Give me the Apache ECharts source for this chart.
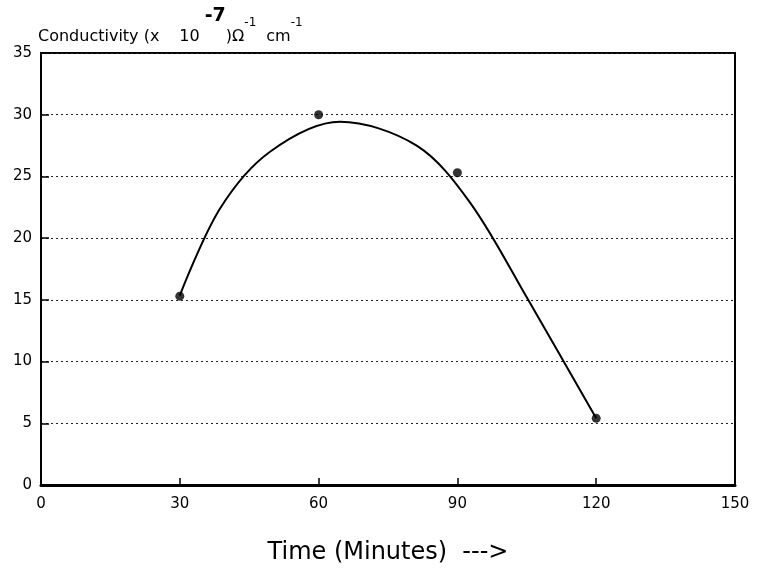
<!DOCTYPE html>
<html>
<head>
<meta charset="utf-8">
<script src="https://cdn.jsdelivr.net/npm/echarts@6/dist/echarts.min.js"></script>
<style>
  html, body { margin: 0; padding: 0; background: #fff; }
  #chart { width: 757px; height: 570px; }
</style>
</head>
<body>
<div id="chart"></div>
<script>
// Measured conductivity samples (time in minutes, conductivity in 1e-7 ohm^-1 cm^-1)
var sampleTimes = [30, 60, 90, 120];
var sampleConductivity = [15.3, 30.0, 25.3, 5.4];

// Hand-fitted trend curve through the samples (knots of a smooth spline)
var curveTimes = [30, 38.7, 49.5, 64.6, 81.2, 92.7, 105.3, 120];
var curveConductivity = [15.35, 22.4, 27, 29.43, 27.5, 22.9, 15, 5.4];

// Axis ticks
var xTicks = { min: 0, max: 150, interval: 30 };
var yTicks = { min: 0, max: 35, interval: 5 };

function pairs(xs, ys) {
  return xs.map(function (x, i) { return [x, ys[i]]; });
}

var font = 'DejaVu Sans';
var chart = echarts.init(document.getElementById('chart'));

chart.setOption({
  animation: false,
  backgroundColor: '#fff',
  grid: {
    left: 41, right: 22, top: 53, bottom: 84,
    show: true, borderColor: '#000', borderWidth: 2, backgroundColor: 'transparent'
  },
  xAxis: {
    type: 'value',
    min: xTicks.min, max: xTicks.max, interval: xTicks.interval,
    name: 'Time (Minutes)  --->',
    nameLocation: 'middle',
    nameGap: 56,
    nameTextStyle: { fontFamily: font, fontSize: 24, color: '#000' },
    axisLine: { show: true, lineStyle: { color: '#000', width: 3 } },
    axisTick: { show: true, inside: true, length: 7, lineStyle: { color: '#000', width: 1.5 } },
    axisLabel: { fontFamily: font, fontSize: 15, color: '#000', margin: 12 },
    splitLine: { show: false }
  },
  yAxis: {
    type: 'value',
    min: yTicks.min, max: yTicks.max, interval: yTicks.interval,
    name: '{t|Conductivity (x}{n|10}{s|-7}{t|)Ω}{u|-1}{c|cm}{u|-1}',
    nameLocation: 'end',
    nameGap: 8,
    nameTextStyle: {
      align: 'left',
      padding: [0, 0, 0, -3],
      rich: {
        t: { fontFamily: font, fontSize: 16, color: '#000', verticalAlign: 'bottom' },
        n: { fontFamily: font, fontSize: 16, color: '#000', verticalAlign: 'bottom', padding: [0, 0, 0, 20] },
        c: { fontFamily: font, fontSize: 16, color: '#000', verticalAlign: 'bottom', padding: [0, 0, 0, 10] },
        s: { fontFamily: font, fontSize: 19, fontWeight: 'bold', color: '#000', padding: [0, 0, 19, 5] },
        u: { fontFamily: font, fontSize: 12, color: '#000', padding: [0, 0, 6, 0] }
      }
    },
    axisLine: { show: true, lineStyle: { color: '#000', width: 2 } },
    axisTick: { show: true, inside: true, length: 8, lineStyle: { color: '#000', width: 1.5 } },
    axisLabel: { fontFamily: font, fontSize: 15, color: '#000', margin: 9 },
    splitLine: { show: true, lineStyle: { color: '#222', width: 1, type: [2, 3] } }
  },
  series: [
    {
      name: 'trend',
      type: 'line',
      data: pairs(curveTimes, curveConductivity),
      smooth: 0.33,
      showSymbol: false,
      lineStyle: { color: '#000', width: 2 },
      z: 2
    },
    {
      name: 'samples',
      type: 'scatter',
      data: pairs(sampleTimes, sampleConductivity),
      symbol: 'circle',
      symbolSize: 9,
      itemStyle: { color: '#000' },
      z: 3
    }
  ]
});
</script>
</body>
</html>
